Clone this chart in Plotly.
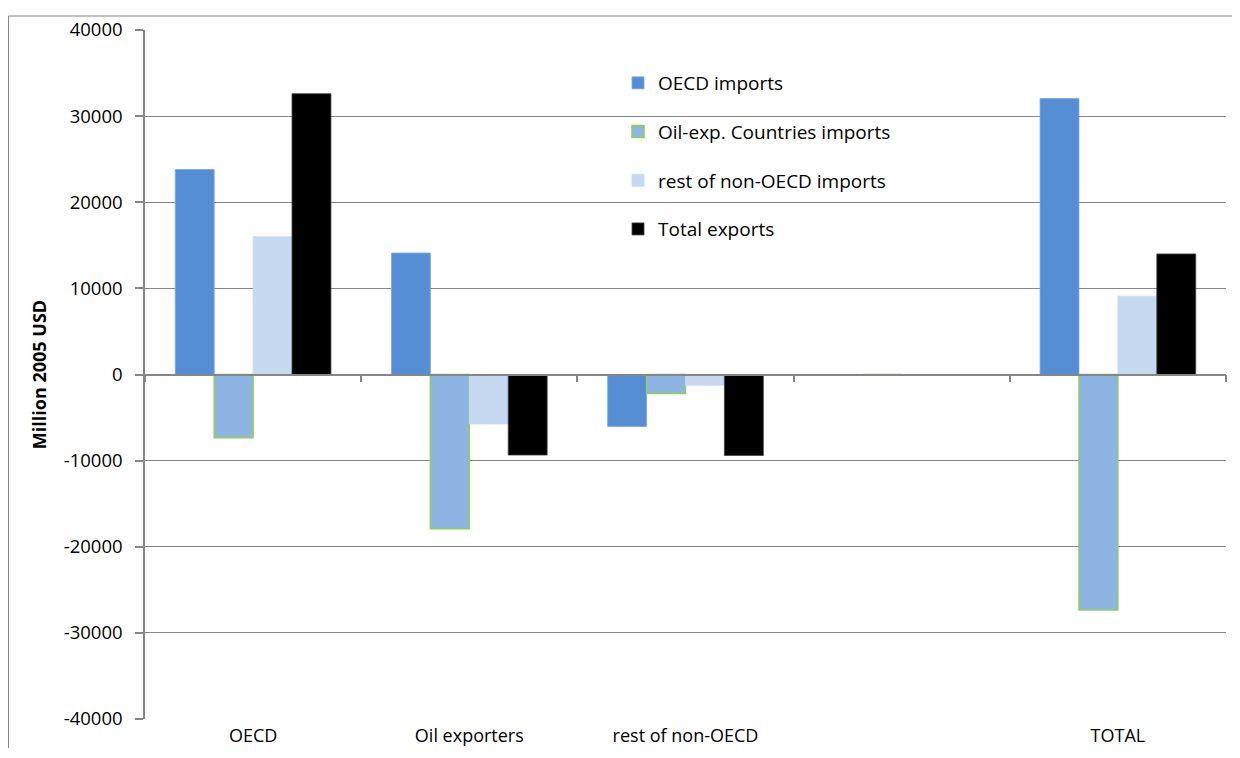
import plotly.graph_objects as go

categories = ["OECD", "Oil exporters", "rest of non-OECD", " ", "TOTAL"]
oecd_imports = [23800, 14100, -6050, 0, 32050]
oil_exp_imports = [-7350, -17900, -2200, 0, -27350]
rest_non_oecd_imports = [16000, -5750, -1250, 0, 9100]
total_exports = [32600, -9350, -9400, 0, 14000]

series_names = ["OECD imports", "Oil-exp. Countries imports", "rest of non-OECD imports", "Total exports"]
series_values = [oecd_imports, oil_exp_imports, rest_non_oecd_imports, total_exports]

y_tick_vals = [-40000, -30000, -20000, -10000, 0, 10000, 20000, 30000, 40000]
y_tick_labels = ["-40000", "-30000", "-20000", "-10000", "0", "10000", "20000", "30000", "40000"]

fill_colors = ["#558ED5", "#8EB4E3", "#C6D9F1", "#000000"]
line_colors = ["#7FA6DA", "#92D050", "#C6D9F1", "#404040"]
line_widths = [0.8, 1.5, 0.8, 0.8]

FONT = "Open Sans, Lato, sans-serif"

fig = go.Figure()
for i, (name, vals) in enumerate(zip(series_names, series_values)):
    fig.add_trace(go.Bar(
        x=categories, y=vals, name=name,
        marker=dict(color=fill_colors[i], line=dict(color=line_colors[i], width=line_widths[i])),
        legendgroup=f"g{i}",
    ))

# invisible trace on a secondary x-axis that draws the category tick marks along the zero line
fig.add_trace(go.Scatter(x=categories, y=[None] * len(categories), xaxis="x2", showlegend=False,
                         hoverinfo="skip", mode="markers"))

OFF = 8  # page body margin (on every side)
W, H = 1240 - 2 * OFF, 758 - 2 * OFF - 2
L, T = 145 - OFF, 30 - OFF
R = W - (1226 - OFF)
B = H - (719 - OFF)
pw = W - L - R
ph = H - T - B


def px2paper_x(px):
    return (px - OFF - L) / pw


def px2paper_y(py):
    return (H - B - (py - OFF)) / ph


fig.update_layout(
    width=W, height=H,
    margin=dict(l=L, r=R, t=T, b=B, autoexpand=False),
    paper_bgcolor="white", plot_bgcolor="white",
    barmode="group", bargap=0.28, bargroupgap=0,
    font=dict(family=FONT, size=18, color="black"),
    showlegend=True,
    legend=dict(
        x=px2paper_x(618), y=px2paper_y(64), xanchor="left", yanchor="top",
        bgcolor="rgba(0,0,0,0)", font=dict(family=FONT, size=19, color="black"),
        tracegroupgap=21, itemwidth=30, itemclick=False,
    ),
    xaxis=dict(
        type="category", showgrid=False, showline=False, ticks="",
        tickfont=dict(family=FONT, size=18, color="black"),
        ticklabelstandoff=4, zeroline=False,
    ),
    xaxis2=dict(
        type="category", overlaying="x", anchor="free", position=0.5,
        showline=True, linecolor="#868686", linewidth=1.5,
        ticks="outside", ticklen=7, tickcolor="#868686", tickwidth=1.5,
        tickson="boundaries", showticklabels=False, showgrid=False, zeroline=False,
        matches="x",
    ),
    yaxis=dict(
        range=[-40000, 40000], tickmode="array", tickvals=y_tick_vals, ticktext=y_tick_labels,
        showgrid=True, gridcolor="#868686", gridwidth=1,
        showline=True, linecolor="#868686", linewidth=1.5,
        ticks="outside", ticklen=8, tickcolor="#868686", tickwidth=1.5,
        tickfont=dict(family=FONT, size=18.5, color="black"),
        ticklabelstandoff=9,
        zeroline=False,
        title=dict(text="<b>Million 2005 USD</b>", font=dict(family=FONT, size=18, color="black"), standoff=12),
    ),
    shapes=[
        # outer chart border: top and left edges
        dict(type="line", xref="paper", yref="paper",
             x0=px2paper_x(8.5), y0=px2paper_y(16), x1=px2paper_x(1240), y1=px2paper_y(16),
             line=dict(color="#868686", width=1), layer="above"),
        dict(type="line", xref="paper", yref="paper",
             x0=px2paper_x(8.5), y0=px2paper_y(16), x1=px2paper_x(8.5), y1=px2paper_y(770),
             line=dict(color="#868686", width=1), layer="above"),
        # legend box background hiding gridlines
        dict(type="rect", xref="paper", yref="paper",
             x0=px2paper_x(545), y0=px2paper_y(252), x1=px2paper_x(908), y1=px2paper_y(58),
             line=dict(width=0), fillcolor="white", layer="between"),
    ],
)

fig.write_html("out.html")
